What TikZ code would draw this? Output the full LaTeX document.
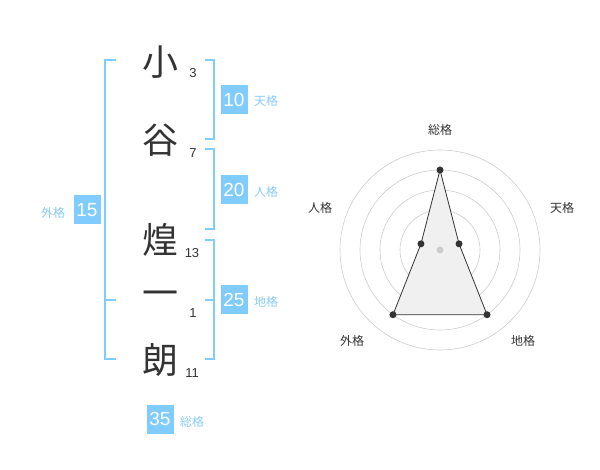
\documentclass[tikz,border=0pt]{standalone}
\usepackage{fontspec}
\setmainfont{Liberation Sans}
\newfontfamily\cjk{Noto Sans CJK JP}
\definecolor{kakublue}{HTML}{80CCFF}
\definecolor{kakulabel}{HTML}{88CCF5}
\definecolor{inkgray}{HTML}{333333}
\definecolor{ringgray}{HTML}{CCCCCC}
\definecolor{areagray}{HTML}{F0F0F0}
\begin{document}
\begin{tikzpicture}[x=1pt,y=-1pt,
		kanji/.style={inner sep=0pt,text=inkgray,font=\cjk\fontsize{36}{36}\selectfont},
		strokes/.style={inner sep=0pt,text=inkgray,font=\fontsize{13}{13}\selectfont},
		numbox/.style={fill=kakublue,text=white,minimum width=27pt,minimum height=29pt,inner sep=0pt,font=\fontsize{19}{19}\selectfont},
		kakuname/.style={inner sep=0pt,text=kakulabel,font=\cjk\fontsize{12}{12}\selectfont},
		bracket/.style={draw=kakublue,line width=1.6pt},
		axisname/.style={inner sep=0pt,text=inkgray,font=\cjk\fontsize{12}{12}\selectfont},
		ring/.style={draw=ringgray,line width=0.6pt},
		dot/.style={circle,fill=inkgray,inner sep=0pt,minimum size=7pt}]
		\useasboundingbox (0,0) rectangle (600,470);
		% name
		\node[kanji] (c1) at (160,62) {小};
		\node[kanji] (c2) at (160,140) {谷};
		\node[kanji] (c3) at (160,240) {煌};
		\node[kanji] (c4) at (160,299) {一};
		\node[kanji] (c5) at (160,360) {朗};
		\node[strokes] (s1) at (193,73) {3};
		\node[strokes] (s2) at (193,153) {7};
		\node[strokes] (s3) at (192,253) {13};
		\node[strokes] (s4) at (193,313) {1};
		\node[strokes] (s5) at (192,373) {11};
		% brackets
		\draw[bracket] (116,60) -- (105,60) -- (105,359) -- (116,359);
		\draw[bracket] (105,300) -- (116,300);
		\draw[bracket] (205,60) -- (214,60) -- (214,139) -- (205,139);
		\draw[bracket] (205,149) -- (214,149) -- (214,229) -- (205,229);
		\draw[bracket] (205,240) -- (214,240) -- (214,359) -- (205,359);
		\draw[bracket] (214,300) -- (205,300);
		% kaku values
		\node[numbox] (ten) at (234,100) {10};
		\node[kakuname] at (266,101) {天格};
		\node[numbox] (jin) at (234,190) {20};
		\node[kakuname] at (266,192) {人格};
		\node[numbox] (gai) at (87,210) {15};
		\node[kakuname] at (53,213) {外格};
		\node[numbox] (chi) at (234,300) {25};
		\node[kakuname] at (266,302) {地格};
		\node[numbox] (sou) at (160,419) {35};
		\node[kakuname] at (192,422) {総格};
		% radar
		\begin{scope}[shift={(440,250)},yscale=-1]
			\foreach \r in {20,40,60,80,100}
				\draw[ring] (0,0) circle (\r pt);
			\coordinate (rsou) at (90:80);
			\coordinate (rten) at (18:20);
			\coordinate (rchi) at (-54:80);
			\coordinate (rgai) at (-126:80);
			\coordinate (rjin) at (162:20);
			\draw[fill=areagray,draw=inkgray,line width=0.8pt] (rsou) -- (rten) -- (rchi) -- (rgai) -- (rjin) -- cycle;
			\fill[ringgray] (0,0) circle (3.5pt);
			\foreach \p in {rsou,rten,rchi,rgai,rjin}
				\node[dot] at (\p) {};
		\end{scope}
		\node[axisname] (lsou) at (440,130) {総格};
		\node[axisname] (lten) at (562,208) {天格};
		\node[axisname] (ljin) at (320,208) {人格};
		\node[axisname] (lchi) at (523,341) {地格};
		\node[axisname] (lgai) at (352,341) {外格};
	\end{tikzpicture}
\end{document}
